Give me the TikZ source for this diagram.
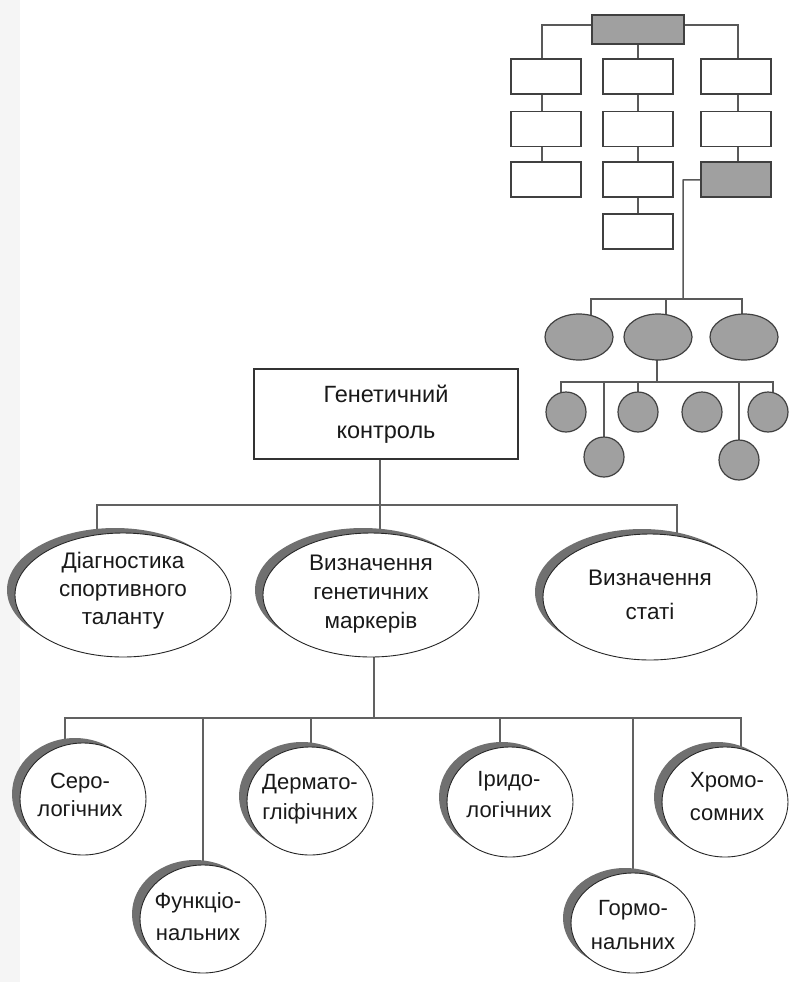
\documentclass[tikz,border=0pt]{standalone}
\usepackage{fontspec}
\setmainfont{Liberation Sans}
\usetikzlibrary{shapes.geometric,shadows,backgrounds}
\definecolor{shd}{RGB}{112,112,112}
\definecolor{sgrayc}{RGB}{160,160,160}
\definecolor{stripc}{RGB}{245,245,245}
\begin{document}
\begin{tikzpicture}[x=1pt,y=-1pt,
  conn/.style={draw=black!62, line width=1.6pt},
  sconn/.style={draw=black!65, line width=1.5pt},
  bigell/.style={ellipse, draw=black!85, line width=0.9pt, fill=white, inner sep=0pt,
     drop shadow={shadow xshift=-8pt, shadow yshift=5pt, fill=shd, opacity=1}},
  lbl/.style={align=center, font=\fontsize{22.5}{28}\selectfont, text=black!90, inner sep=0pt},
  sbox/.style={rectangle, draw=black!75, line width=1.4pt, fill=white, minimum width=70pt, minimum height=35pt, inner sep=0pt},
  sgray/.style={sbox, fill=sgrayc},
  sell/.style={ellipse, draw=black!75, line width=1.2pt, fill=sgrayc, minimum width=68pt, minimum height=46pt, inner sep=0pt},
  scirc/.style={circle, draw=black!75, line width=1.2pt, fill=sgrayc, minimum size=40pt, inner sep=0pt}]
\useasboundingbox (0,0) rectangle (788,982);
\begin{pgfonlayer}{background}
\fill[white] (0,0) rectangle (788,982);
\fill[stripc] (0,0) rectangle (20,982);
\end{pgfonlayer}

% ---------- small diagram (top right) ----------
\node[sgray, minimum width=92pt, minimum height=29pt] (T) at (638,29.5) {};
\node[sbox] (L1) at (546,76.5) {};
\node[sbox] (L2) at (546,129) {};
\node[sbox] (L3) at (546,179.5) {};
\node[sbox] (M1) at (638,76.5) {};
\node[sbox] (M2) at (638,129) {};
\node[sbox] (M3) at (638,179.5) {};
\node[sbox] (M4) at (638,231.5) {};
\node[sbox] (R1) at (736,76.5) {};
\node[sbox] (R2) at (736,129) {};
\node[sgray] (R3) at (736,179.5) {};

\node[sell] (SE1) at (579,337) {};
\node[sell] (SE2) at (658,337) {};
\node[sell] (SE3) at (744,337) {};

\node[scirc] (C1) at (566,412) {};
\node[scirc] (C2) at (638,412) {};
\node[scirc] (C3) at (702,412) {};
\node[scirc] (C4) at (768,412) {};
\node[scirc] (C5) at (604,457) {};
\node[scirc] (C6) at (739,460) {};

\coordinate (a1) at (542,25);
\coordinate (a3) at (738,25);
\coordinate (s0) at (683,180);
\coordinate (s1) at (683,299);
\coordinate (b1) at (591,299);
\coordinate (b2) at (666,299);
\coordinate (b3) at (742,299);
\coordinate (d0) at (657,382);
\coordinate (d1) at (561,382);
\coordinate (d2) at (638,382);
\coordinate (d5) at (604,382);
\coordinate (d6) at (739,382);
\coordinate (d4) at (773,382);

% ---------- main diagram ----------
\node[rectangle, draw=black!80, line width=1.1pt, fill=white, minimum width=264pt, minimum height=90pt,
      align=center, font=\fontsize{23.5}{36}\selectfont, text=black!90] (G) at (386,414) {Генетичний\\контроль};

\node[bigell, minimum width=216pt, minimum height=124pt] (E1) at (123,595) {};
\node[bigell, minimum width=216pt, minimum height=124pt] (E2) at (371,595) {};
\node[bigell, minimum width=214pt, minimum height=126pt] (E3) at (650,597) {};
\node[lbl] (t1) at (123,591) {Діагностика\\спортивного\\таланту};
\node[lbl, font=\fontsize{22.5}{29}\selectfont] (t2) at (371,594) {Визначення\\генетичних\\маркерів};
\node[lbl, font=\fontsize{22.5}{34}\selectfont] (t3) at (650,595) {Визначення\\статі};

\node[bigell, minimum width=126pt, minimum height=112pt] (F1) at (83,799) {};
\node[bigell, minimum width=126pt, minimum height=108pt] (F2) at (203,919) {};
\node[bigell, minimum width=126pt, minimum height=108pt] (F3) at (310,801) {};
\node[bigell, minimum width=126pt, minimum height=110pt] (F4) at (510,802) {};
\node[bigell, minimum width=124pt, minimum height=100pt] (F5) at (633,923) {};
\node[bigell, minimum width=126pt, minimum height=110pt] (F6) at (725,802) {};
\node[lbl, font=\fontsize{22}{28}\selectfont] (u1) at (80,795) {Серо-\\логічних};
\node[lbl, font=\fontsize{22}{32}\selectfont] (u2) at (198,917) {Функціо-\\нальних};
\node[lbl, font=\fontsize{22}{30}\selectfont] (u3) at (310,799) {Дермато-\\гліфічних};
\node[lbl, font=\fontsize{22}{31}\selectfont] (u4) at (509,795) {Іридо-\\логічних};
\node[lbl, font=\fontsize{22}{34}\selectfont] (u5) at (633,925) {Гормо-\\нальних};
\node[lbl, font=\fontsize{22}{33}\selectfont] (u6) at (727,797) {Хромо-\\сомних};

\coordinate (g0) at (380,505);
\coordinate (h1) at (97,505);
\coordinate (h3) at (677,505);
\coordinate (k0) at (374,718);
\coordinate (k1) at (65,718);
\coordinate (k2) at (203,718);
\coordinate (k3) at (311,718);
\coordinate (k4) at (500,718);
\coordinate (k5) at (633,718);
\coordinate (k6) at (741,718);

\begin{pgfonlayer}{background}
% small diagram connectors
\draw[sconn] (T.west |- a1) -- (a1) -- (a1 |- L1.center);
\draw[sconn] (T.east |- a3) -- (a3) -- (a3 |- R1.center);
\draw[sconn] (T.center) -- (M1.center);
\draw[sconn] (a1 |- L1.center) -- (a1 |- L3.center);
\draw[sconn] (M1.center) -- (M4.center);
\draw[sconn] (a3 |- R1.center) -- (a3 |- R3.center);
\draw[sconn] (R3.center) -- (s0) -- (s1);
\draw[sconn] (b1 |- SE1.center) -- (b1) -- (b3) -- (b3 |- SE3.center);
\draw[sconn] (b2) -- (b2 |- SE2.center);
\draw[sconn] (SE2.center -| d0) -- (d0);
\draw[sconn] (d1 |- C1.center) -- (d1) -- (d4) -- (d4 |- C4.center);
\draw[sconn] (d2) -- (C2.center);
\draw[sconn] (d5) -- (C5.center);
\draw[sconn] (d6) -- (C6.center);
% main connectors
\draw[conn] (g0 |- G.center) -- (g0) -- (g0 |- E2.center);
\draw[conn] (h1 |- E1.center) -- (h1) -- (h3) -- (h3 |- E3.center);
\draw[conn] (k0 |- E2.center) -- (k0);
\draw[conn] (k1 |- F1.center) -- (k1) -- (k6) -- (k6 |- F6.center);
\draw[conn] (k2) -- (k2 |- F2.center);
\draw[conn] (k3) -- (k3 |- F3.center);
\draw[conn] (k4) -- (k4 |- F4.center);
\draw[conn] (k5) -- (k5 |- F5.center);
\end{pgfonlayer}
\end{tikzpicture}
\end{document}
